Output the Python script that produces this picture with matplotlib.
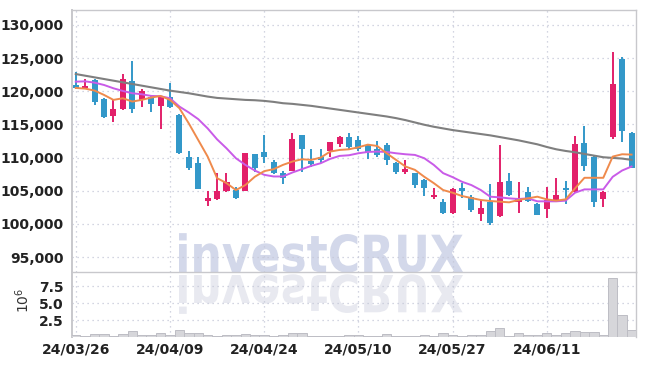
import matplotlib
matplotlib.use("Agg")
import matplotlib.pyplot as plt
from matplotlib.ticker import FuncFormatter
from matplotlib.textpath import TextPath
from matplotlib.patches import PathPatch
from matplotlib.font_manager import FontProperties
from matplotlib.transforms import Affine2D

plt.rcParams['font.family'] = ['Liberation Sans Narrow', 'DejaVu Sans']

# daily candles, 2024-03-26 .. 2024-06-24
opens  = [121000, 120550, 121700, 118900, 116300, 117400, 121500, 118700, 119100, 117800,
          119100, 116400, 110050, 109200, 103400, 103700, 104900, 105100, 105000, 110550,
          110850, 109350, 107700, 108050, 113400, 109450, 110100, 110950, 112050, 113050,
          112650, 111850, 111250, 111950, 109250, 107800, 107600, 106600, 104100, 103250,
          101600, 105400, 104000, 101500, 103300, 101200, 106400, 103300, 104800, 103000,
          102300, 103600, 105450, 104800, 112150, 110050, 103700, 113150, 124900, 113650]
highs  = [122900, 121900, 121800, 119000, 118700, 122600, 124600, 120300, 119500, 119300,
          121300, 116500, 111000, 110100, 104900, 107700, 107600, 105500, 110700, 110600,
          113350, 109700, 108050, 113650, 113450, 111250, 111300, 112400, 113200, 113750,
          113250, 112100, 112550, 112200, 109300, 109600, 107700, 106700, 105350, 103750,
          105350, 106100, 104300, 103550, 106000, 111900, 107700, 106300, 105600, 103100,
          105500, 106900, 106500, 113300, 114750, 110300, 104900, 126000, 125100, 113900]
lows   = [120400, 120300, 118000, 116000, 115400, 117200, 116700, 117600, 116900, 114300,
          117500, 110600, 108150, 105200, 102700, 103600, 104850, 103700, 104900, 107800,
          109250, 107450, 106000, 107950, 107750, 108600, 109200, 110150, 111650, 111300,
          111050, 109750, 110100, 108900, 107500, 107500, 105450, 104200, 103700, 101500,
          101550, 103850, 101850, 100500, 99900, 101100, 104250, 101600, 103350, 101400,
          100850, 103400, 103000, 104700, 108000, 102600, 102600, 112800, 112400, 108450]
closes = [120500, 120800, 118400, 116100, 117400, 121800, 117400, 120100, 118100, 119200,
          117600, 110650, 108500, 105300, 103900, 105000, 106300, 103900, 110650, 108500,
          110050, 107650, 106900, 112800, 111250, 109050, 109650, 112350, 113150, 111550,
          111250, 110900, 110450, 109650, 107750, 108300, 105800, 105450, 104400, 101700,
          105250, 105000, 102100, 102400, 100100, 106350, 104400, 103700, 103450, 101400,
          103600, 104350, 105100, 112050, 108800, 103250, 104800, 121100, 114050, 108500]
volumes = [0.35, 0.15, 0.5, 0.5, 0.2, 0.45, 0.85, 0.35, 0.35, 0.55,
           0.3, 1.0, 0.55, 0.55, 0.35, 0.2, 0.3, 0.35, 0.5, 0.25,
           0.3, 0.2, 0.25, 0.55, 0.55, 0.2, 0.15, 0.2, 0.2, 0.35,
           0.25, 0.2, 0.2, 0.4, 0.2, 0.15, 0.2, 0.25, 0.2, 0.55,
           0.35, 0.2, 0.35, 0.35, 0.95, 1.4, 0.2, 0.6, 0.3, 0.3,
           0.6, 0.35, 0.55, 0.95, 0.8, 0.8, 0.3, 8.7, 3.3, 1.1]
ma_short = [120500, 120400, 120100, 119450, 118700, 118950, 118450, 118700, 119050, 119300,
            118700, 117450, 115150, 112650, 110150, 106900, 106150, 105100, 105850, 107100,
            107950, 108250, 108900, 109400, 109750, 109650, 110000, 110900, 111150, 111250,
            111550, 111950, 111750, 110650, 109650, 108650, 108150, 107100, 106150, 105100,
            104700, 104200, 103900, 103600, 103450, 103350, 103250, 103600, 103850, 104100,
            103700, 103500, 103700, 105350, 106950, 106950, 106950, 110150, 110500, 110450]
ma_mid = [121450, 121500, 121300, 120950, 120450, 120050, 119700, 119550, 119300, 119250,
          118950, 117700, 116800, 115800, 114400, 112750, 111400, 109900, 108900, 108050,
          107400, 107150, 107150, 107750, 108250, 108750, 109150, 109800, 110250, 110350,
          110650, 110850, 110900, 110850, 110650, 110500, 110400, 109900, 108900, 107650,
          107050, 106350, 105850, 105100, 104100, 104000, 103850, 103750, 103850, 103400,
          103400, 103400, 103500, 104700, 105200, 105200, 105200, 107100, 108050, 108650]
ma_long = [122600, 122350, 122100, 121850, 121600, 121350, 121100, 120850, 120600, 120350,
           120100, 119900, 119700, 119450, 119200, 119000, 118900, 118800, 118700, 118650,
           118550, 118400, 118200, 118100, 117950, 117800, 117600, 117400, 117200, 117000,
           116800, 116600, 116400, 116200, 115950, 115650, 115300, 114950, 114650, 114400,
           114150, 113950, 113750, 113550, 113350, 113100, 112850, 112600, 112300, 112000,
           111600, 111250, 111000, 110800, 110550, 110300, 110050, 109950, 109850, 109650]
tick_labels = ['24/03/26', '24/04/09', '24/04/24', '24/05/10', '24/05/27', '24/06/11']

up_col = '#e2206a'
down_col = '#3398c9'
grid_col = '#c5c8d8'
spine_col = '#c8c8cc'

W, H = 645, 366
fig = plt.figure(figsize=(W / 100, H / 100), dpi=100)
ax = fig.add_axes([72 / W, 1 - 272 / H, (635.5 - 72) / W, (272 - 10) / H])
axv = fig.add_axes([72 / W, 1 - 337 / H, (635.5 - 72) / W, (337 - 272) / H], sharex=ax)
for a in (ax, axv):
    a.set_facecolor('none')

# watermark with reflection
fp = FontProperties(family='Liberation Sans Narrow', weight='bold')
tp = TextPath((0, 0), 'investCRUX', size=100, prop=fp)
cap = TextPath((0, 0), 'CRUX', size=100, prop=fp).get_extents()
ext = tp.get_extents()
sx = (463 - 179) / ext.width
sy = 38.7 / cap.height
t_main = Affine2D().translate(-ext.x0, 0).scale(sx, sy).translate(179, H - 272)
t_refl = Affine2D().translate(-ext.x0, 0).scale(sx, -sy).translate(179, H - 275)
fig.add_artist(PathPatch(tp, transform=t_main, facecolor='#d3d8ea', edgecolor='none', zorder=-5))
fig.add_artist(PathPatch(tp, transform=t_refl, facecolor='#e8e9f0', edgecolor='none', zorder=-5))

x = list(range(len(opens)))
# candles
for i in x:
    o, h, l, c = opens[i], highs[i], lows[i], closes[i]
    col = up_col if c >= o else down_col
    ax.vlines(i, l, h, color=col, lw=1.4, zorder=3)
    body = max(abs(c - o), 250)
    ax.bar(i, body, bottom=min(o, c), width=0.64, color=col, zorder=4, linewidth=0)

ax.plot(x, ma_long, color='#7f7f7f', lw=1.5, zorder=5)
ax.plot(x, ma_mid, color='#c95be8', lw=1.4, zorder=5)
ax.plot(x, ma_short, color='#ef8a4c', lw=1.4, zorder=5)

axv.bar(x, volumes, width=1.0, color='#d6d6da', edgecolor='#bdbdc4', linewidth=0.7, zorder=3)

ax.set_xlim(-0.4, 59.42)
ax.set_ylim(92740, 132260)
ax.set_yticks(range(95000, 130001, 5000))
ax.yaxis.set_major_formatter(FuncFormatter(lambda v, p: f'{int(v):,}'))
axv.set_ylim(0, 9.6)
axv.set_yticks([2.5, 5.0, 7.5])
axv.set_xticks(range(0, 60, 10))
axv.set_xticklabels(tick_labels)
axv.set_ylabel('$10^6$', fontsize=10, color='#333333')
axv.yaxis.set_label_coords(-0.071, 0.57)

for a in (ax, axv):
    a.grid(True, color=grid_col, linestyle=(0, (1, 3)), lw=0.9)
    a.set_axisbelow(True)
    a.tick_params(length=0, labelsize=10, colors='#222222', pad=6)
    for lab in a.get_xticklabels() + a.get_yticklabels():
        lab.set_fontweight('bold')
    for s in a.spines.values():
        s.set_color(spine_col)
        s.set_linewidth(1.0)
ax.tick_params(axis='x', labelbottom=False)
axv.tick_params(axis='x', pad=4)
axv.spines['top'].set_visible(False)
axv.spines['bottom'].set_visible(False)
ax.spines['left'].set_linewidth(1.4)
axv.spines['left'].set_linewidth(1.4)

fig.savefig('out.png', dpi=100)
